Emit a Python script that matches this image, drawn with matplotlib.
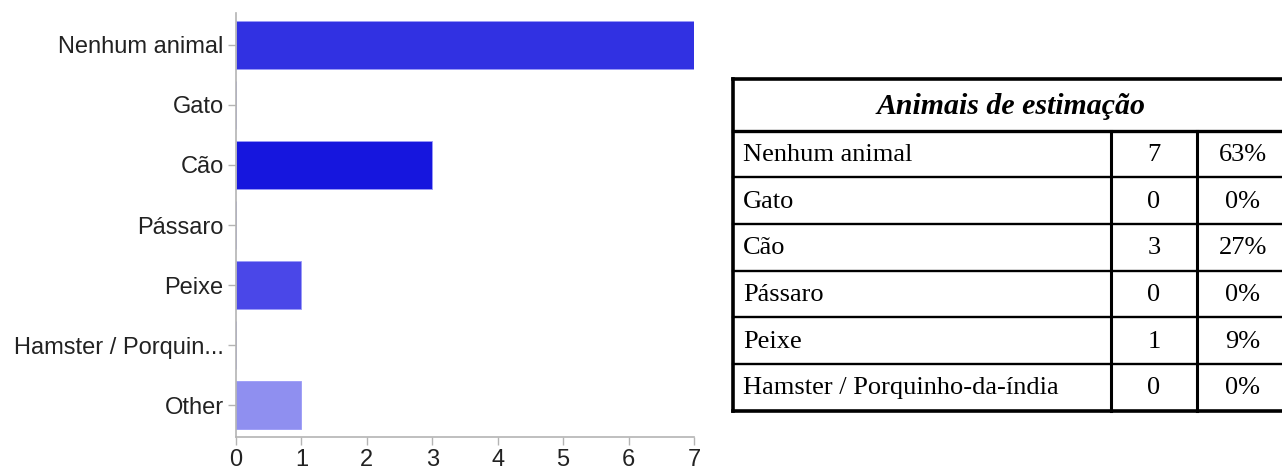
import matplotlib.pyplot as plt

# chart data
categories = ["Nenhum animal", "Gato", "Cão", "Pássaro", "Peixe",
              "Hamster / Porquin...", "Other"]
counts = [7, 0, 3, 0, 1, 0, 1]
bar_colors = ["#3131e2", "#3131e2", "#1616de", "#1616de", "#4a47e8",
              "#4a47e8", "#8f8ff0"]

# table data
table_title = "Animais de estimação"
table_names = ["Nenhum animal", "Gato", "Cão", "Pássaro", "Peixe",
               "Hamster / Porquinho-da-índia"]
table_counts = [7, 0, 3, 0, 1, 0]
table_pcts = ["63%", "0%", "27%", "0%", "9%", "0%"]

W, H = 1282, 469
fig = plt.figure(figsize=(W / 100, H / 100), dpi=100)

# bar chart
ax = fig.add_axes([236 / W, 1 - 437 / H, (694 - 236) / W, (437 - 13) / H])
ypos = list(range(len(categories)))
ax.barh(ypos, counts, height=0.8, color=bar_colors,
        edgecolor="#9a9af8", linewidth=0.6)
ax.set_yticks(ypos)
ax.set_yticklabels(categories)
ax.set_ylim(len(categories) - 0.47, -0.53)
ax.set_xlim(0, 7)
ax.set_xticks(range(8))
for s in ["top", "right"]:
    ax.spines[s].set_visible(False)
for s in ["left", "bottom"]:
    ax.spines[s].set_color("#b4b4b4")
    ax.spines[s].set_linewidth(1.2)
ax.tick_params(axis="both", colors="#b4b4b4", length=6, width=1.0,
               labelcolor="#222222", labelsize=17, pad=3)
for lab in ax.get_xticklabels() + ax.get_yticklabels():
    lab.set_fontfamily("Liberation Sans")

# table drawn in pixel coordinates
tx = fig.add_axes([0, 0, 1, 1])
tx.set_xlim(0, W)
tx.set_ylim(H, 0)
tx.axis("off")

left, right = 733, 1290
col1, col2 = 1111, 1197
top, head_bot = 79.5, 130.7
row_h = (410.7 - head_bot) / len(table_names)
bottom = head_bot + row_h * len(table_names)

serif = "Liberation Serif"
tx.plot([left, right], [top, top], color="black", lw=2.6)
tx.plot([left, right], [bottom, bottom], color="black", lw=2.6)
tx.plot([left, left], [top, bottom], color="black", lw=2.6)
tx.plot([left, right], [head_bot, head_bot], color="black", lw=2.4)
for i in range(1, len(table_names)):
    y = head_bot + i * row_h
    tx.plot([left, right], [y, y], color="black", lw=1.7)
for x in (col1, col2):
    tx.plot([x, x], [head_bot, bottom], color="black", lw=2.2)

tx.text(1011, (top + head_bot) / 2 + 1, table_title, ha="center",
        va="center", fontsize=21.5, fontweight="bold", fontstyle="italic",
        family=serif)
for i, (n, c, p) in enumerate(zip(table_names, table_counts, table_pcts)):
    yc = head_bot + (i + 0.5) * row_h + 1
    tx.text(743, yc, n, ha="left", va="center", fontsize=19, family=serif)
    tx.text((col1 + col2) / 2, yc, str(c), ha="center", va="center",
            fontsize=19, family=serif)
    tx.text(1243, yc, p, ha="center", va="center", fontsize=19,
            family=serif)

fig.savefig("out.png", dpi=100)
